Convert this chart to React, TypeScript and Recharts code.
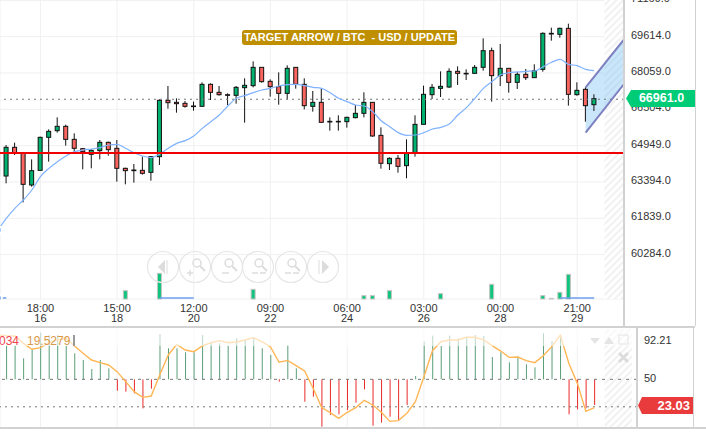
import React from "react";
import { ComposedChart, Bar, Line, Area, XAxis, YAxis, CartesianGrid, ReferenceLine, ReferenceArea } from "recharts";

const indices = Array.from({ length: 71 }, (_, k) => k - 1);
const highs = [64905,64977,65076,64648,64363,65333,65647,66161,65847,65476,64834,64791,65191,65119,65191,64006,64163,64477,64506,66932,67502,66974,66860,66832,67659,67616,67502,67188,67502,67831,68558,68301,67788,68087,68387,68301,67831,67288,67402,66161,66247,66189,66689,67231,66803,65733,64449,64548,65219,66247,67517,67588,68130,68259,68344,68216,68401,69543,69143,69300,68259,68116,68230,68430,69800,70000,70000,70171,67659,67445,67146];
const lows = [63022,63335,64548,62522,63193,63892,64263,65505,64948,64691,63935,63978,64363,64520,63407,63293,63364,63707,63450,64120,66532,66361,66575,66446,66632,66903,67089,66689,66746,65933,67445,67645,67046,66703,66932,67388,66503,66404,65947,65590,65590,65719,66118,66161,65333,63963,63906,63792,63550,64477,65861,66946,67031,67417,67545,67759,68016,68159,66832,67502,67217,67374,67759,67859,68116,69443,69571,66660,67089,65975,66432];
const opens = [63649,63649,64877,64648,63264,63892,65305,65590,65776,65219,64820,64577,64734,65091,64834,63978,63878,63892,63806,64477,66889,66803,66760,66646,66632,67574,67231,67131,67103,67431,67517,68301,67702,67474,67188,68301,67574,66632,66803,65961,65990,65975,66147,66332,66803,65390,64177,64406,64092,64634,65861,67131,67402,67459,68130,68045,68045,68301,69015,67945,68259,67659,68002,67859,68216,69728,69714,69971,67131,67360,66703];
const closes = [64762,64877,64620,63293,63878,65305,65562,65776,65219,64834,64691,64748,65091,64777,63978,63878,63906,63764,64477,66889,66789,66746,66632,66632,67574,67231,67131,67103,67445,67531,68301,67688,67474,67188,68259,67574,66660,66803,65947,65990,65975,66161,66332,66803,65362,64192,64406,64063,64634,65861,67146,67445,67488,68130,68045,68030,68301,69015,67945,68259,67659,68002,67859,68159,69757,69757,69971,67146,67317,66660,66961];
const movingAverage = [61338,61837,62265,62622,63050,63621,63978,64263,64506,64691,64762,64805,64862,64977,65005,64834,64648,64506,64434,64591,64834,65048,65162,65362,65690,65975,66261,66646,66974,67089,67217,67331,67402,67502,67559,67574,67517,67445,67402,67217,66974,66832,66689,66646,66404,66018,65761,65505,65390,65405,65505,65662,65733,65876,66261,66575,66974,67402,67688,67973,68073,68102,68130,68144,68330,68516,68644,68430,68373,68216,68159];
const volumes = [37,0,0,0,0,0,0,0,0,0,0,0,0,0,0,25,0,0,0,77,0,0,0,0,0,0,0,0,0,0,29,0,0,0,0,0,0,0,0,0,0,0,0,10,10,0,25,0,0,0,0,0,16,0,0,0,0,0,44,0,0,0,0,0,10,2,20,74,0,0,0];
const volumeAverage = [3,3,null,null,null,null,null,null,null,null,null,null,null,null,null,null,null,null,null,3,3,3,3,3,null,null,null,null,null,null,null,null,null,null,null,null,null,null,null,null,null,null,null,null,null,null,null,null,null,null,null,null,null,null,null,null,null,null,null,null,null,null,null,null,null,null,3,3,3,3,3];
const histogram = [86,86.8,86.8,72.9,82.8,101,98.4,98.4,86.4,78.4,71.1,61.3,71.1,62,37.6,36.5,34.7,18.3,39.8,99.5,83.9,83.9,79.5,79.5,98.4,90.4,89.3,86.8,94.8,94,95.9,83.9,76.6,47.5,87.5,62,25.6,31.1,-1.7,11.1,11.8,16.5,24.5,39.1,-0.6,2.7,9.2,4.5,22,53.6,91.1,97.7,86.4,97.7,94.8,96.6,98.4,97.3,74.4,79.5,68.6,75.1,66.4,63.1,100.2,91.9,98.4,11.8,17.2,18.3,22];
const oscillator = [98.4,97.7,97.3,89.3,82.8,84.6,90,93,94.8,86.4,78.4,71.1,68.2,65.7,58.4,47.5,36.5,30.3,31.8,54.7,76.6,88.2,82,80.2,86.4,90,92.2,90,90.8,93,95.5,91.1,85.3,68.6,70.7,64.9,59.1,40.2,19.1,13.6,7.4,14,19.1,27.1,22,14,4.1,4.9,12.9,25.6,52.9,81.3,91.1,93,93,95.9,95.9,93,86.8,80.9,74,74.4,70.4,68.2,75.8,85.7,98.4,67.5,45.6,15,19.1];

const priceTicks = [71169, 69614, 68059, 66504, 64949, 63394, 61839, 60284];
const timeTicks = [4, 13, 22, 31, 40, 49, 58, 67];
const timeLabels = ["18:00", "15:00", "12:00", "09:00", "06:00", "03:00", "00:00", "21:00"];
const dateLabels = ["16", "18", "20", "22", "24", "26", "28", "29"];
const oscTicks = [92.21, 50];
const supportLevel = 64634;
const lastLine = 66935;
const channelStart = 68;
const channelEnd = 72.5;
const channelUpper = [67445, 69500];
const channelLower = [65505, 67588];

const rows = indices.map((i, k) => ({
  i,
  high: highs[k],
  low: lows[k],
  open: opens[k],
  close: closes[k],
  ma: movingAverage[k],
  vol: volumes[k],
  volMa: volumeAverage[k],
  hist: histogram[k],
  osc: oscillator[k],
}));
const mainRows: any[] = rows.map((r) =>
  r.i === channelStart
    ? { ...r, upper: channelUpper[0], lower: channelLower[0], band: [channelLower[0], channelUpper[0]] }
    : r
);
mainRows.push({ i: channelEnd, upper: channelUpper[1], lower: channelLower[1], band: [channelLower[1], channelUpper[1]] });

const UP = "#00b26f";
const DOWN = "#fb6560";
const FONT = "'Liberation Sans', Arial, sans-serif";

const Candle = (p: any) => {
  const { x, y, width, height, payload } = p;
  if (!payload || payload.high == null || height == null) return null;
  const span = payload.high - payload.low || 1;
  const at = (v: number) => y + ((payload.high - v) / span) * height;
  const top = at(Math.max(payload.open, payload.close));
  const bot = at(Math.min(payload.open, payload.close));
  const cx = x + width / 2;
  return (
    <g>
      <line x1={cx} x2={cx} y1={y} y2={y + height} stroke="#111" strokeWidth={1} />
      <rect x={x} y={top} width={width} height={Math.max(bot - top, 0.6)} fill={payload.close >= payload.open ? UP : DOWN} stroke="#111" strokeWidth={1} />
    </g>
  );
};

const VolBar = (p: any) => {
  const { x, y, width, height, payload } = p;
  if (!payload || !payload.vol) return null;
  return <rect x={x} y={y} width={width} height={height} fill="#0fc47c" stroke="#c4c4c4" strokeWidth={1} />;
};

const HistBar = (p: any) => {
  const { x, y, width, height, payload } = p;
  if (!payload) return null;
  return <rect x={x} y={Math.min(y, y + height)} width={width} height={Math.abs(height)} fill={payload.hist >= 50 ? "#5a9e78" : "#ea2a2a"} />;
};

const TimeTick = (p: any) => {
  const k = timeTicks.indexOf(p.payload.value);
  return (
    <text x={p.x} y={p.y} textAnchor="middle" fontFamily={FONT} fontSize={11} fill="#333">
      <tspan x={p.x} dy={5}>{timeLabels[k]}</tspan>
      <tspan x={p.x} dy={10}>{dateLabels[k]}</tspan>
    </text>
  );
};

const Hatch = ({ id }: { id: string }) => (
  <defs>
    <pattern id={id} width="5" height="5" patternUnits="userSpaceOnUse" patternTransform="rotate(-45)">
      <rect width="5" height="5" fill="#ffffff" />
      <rect width="5" height="2" fill="#f1f1f1" />
    </pattern>
  </defs>
);

const ToolIcons = () => {
  const c = "#dcdcdc";
  const centers = [163, 195, 227, 258, 291, 323];
  const mag = (cx: number, sub: React.ReactNode) => (
    <g key={cx} stroke={c} fill="none" strokeWidth={1.5}>
      <circle cx={cx + 1} cy={263} r={4} />
      <line x1={cx + 4} y1={266} x2={cx + 9} y2={271} strokeWidth={2} />
      {sub}
    </g>
  );
  return (
    <svg width={706} height={433} style={{ position: "absolute", left: 0, top: 0, pointerEvents: "none" }}>
      {centers.map((cx) => (
        <circle key={cx} cx={cx} cy={267} r={15.5} fill="none" stroke="#e6e6e6" strokeWidth={1.2} />
      ))}
      <path d="M158 267 L165 260 L165 274 Z" fill={c} />
      <line x1={167} x2={167} y1={260} y2={274} stroke={c} />
      {mag(196, <g><line x1={187} x2={193} y1={273} y2={273} /><line x1={190} x2={190} y1={270} y2={276} /></g>)}
      {mag(228, <line x1={222} x2={229} y1={273} y2={273} />)}
      {mag(258, <g><line x1={252} x2={258} y1={273} y2={273} /><line x1={260} x2={266} y1={273} y2={273} /></g>)}
      {mag(291, <g><line x1={285} x2={291} y1={273} y2={273} /><line x1={293} x2={299} y1={273} y2={273} /></g>)}
      <path d="M329 267 L322 260 L322 274 Z" fill={c} />
      <line x1={319} x2={319} y1={260} y2={274} stroke={c} />
      <path d="M590 338 L600 338 L595 344 Z" fill="#e4e4e4" />
      <path d="M604 344 L614 344 L609 337 Z" fill="#e4e4e4" />
      <rect x={619} y={335} width={9} height={9} fill="none" stroke="#e4e4e4" />
      <path d="M619 353 L628 362 M628 353 L619 362" stroke="#dcdcdc" strokeWidth={3} />
    </svg>
  );
};

const divider = (left: number, top: number, width: number, height: number, color = "#d2d2d2") => (
  <div style={{ position: "absolute", left, top, width, height, background: color }} />
);

export default function App() {
  return (
    <div style={{ position: "absolute", left: 0, top: 0, width: 706, height: 433, overflow: "hidden", background: "#fff", fontFamily: FONT }}>
      <div style={{ position: "absolute", left: 0, top: 0 }}>
        <ComposedChart width={706} height={327} data={mainRows} margin={{ top: 0, right: 0, bottom: 0, left: 0 }}>
          <Hatch id="hatchMain" />
          <XAxis xAxisId="p" dataKey="i" type="number" domain={[-0.743, 72.5]} allowDataOverflow ticks={timeTicks} interval={0} tick={<TimeTick />} tickLine={false} axisLine={false} height={28} />
          <XAxis xAxisId="v" dataKey="i" type="number" domain={[-0.743, 72.5]} allowDataOverflow hide />
          <YAxis yAxisId="price" orientation="right" domain={[58384, 71184]} allowDataOverflow ticks={priceTicks} interval={0} width={82} tickLine={false} axisLine={false} tickMargin={1} tickFormatter={(v: number) => v.toFixed(1)} tick={{ fontSize: 11, fill: "#333", fontFamily: FONT, dy: -2, textAnchor: "start" }} />
          <YAxis yAxisId="volume" domain={[0, 897]} hide />
          <CartesianGrid xAxisId="p" yAxisId="price" stroke="#f0f0f0" strokeWidth={1} />
          <ReferenceArea xAxisId="p" yAxisId="price" x1={70.2} x2={72.5} y1={58384} y2={71184} fill="url(#hatchMain)" fillOpacity={1} stroke="none" />
          <ReferenceLine xAxisId="p" yAxisId="price" y={lastLine} stroke="#777" strokeDasharray="2 4" strokeWidth={1} />
          <Bar xAxisId="v" yAxisId="volume" dataKey="vol" barSize={4} shape={<VolBar />} isAnimationActive={false} />
          <Line xAxisId="v" yAxisId="volume" dataKey="volMa" stroke="#6f9fee" strokeWidth={1.5} dot={false} isAnimationActive={false} />
          <Bar xAxisId="p" yAxisId="price" dataKey={(d: any) => (d.high == null ? null : [d.low, d.high])} barSize={4} shape={<Candle />} isAnimationActive={false} />
          <Line xAxisId="p" yAxisId="price" dataKey="ma" type="monotone" stroke="#7fb2ff" strokeWidth={1.2} dot={false} isAnimationActive={false} />
          <ReferenceLine xAxisId="p" yAxisId="price" y={supportLevel} stroke="#f00000" strokeWidth={2} />
          <Area xAxisId="p" yAxisId="price" dataKey="band" connectNulls stroke="none" fill="#74bdf5" fillOpacity={0.38} dot={false} activeDot={false} isAnimationActive={false} />
          <Line xAxisId="p" yAxisId="price" dataKey="upper" connectNulls stroke="#7d7fbf" strokeWidth={2} dot={false} isAnimationActive={false} />
          <Line xAxisId="p" yAxisId="price" dataKey="lower" connectNulls stroke="#7d7fbf" strokeWidth={2} dot={false} isAnimationActive={false} />
        </ComposedChart>
      </div>

      <div style={{ position: "absolute", left: 0, top: 329 }}>
        <ComposedChart width={693} height={98} data={rows} margin={{ top: 0, right: 0, bottom: 0, left: 0 }}>
          <Hatch id="hatchOsc" />
          <XAxis dataKey="i" type="number" domain={[-0.743, 74]} allowDataOverflow ticks={timeTicks} interval={0} hide />
          <YAxis orientation="right" domain={[-2.05, 104.96]} allowDataOverflow ticks={oscTicks} interval={0} width={56} tickLine={false} axisLine={false} tickMargin={1} tick={{ fontSize: 11, fill: "#333", fontFamily: FONT, dy: -1, textAnchor: "start" }} />
          <CartesianGrid horizontal={false} stroke="#f0f0f0" />
          <ReferenceArea x1={70.2} x2={73.4} y1={-2.05} y2={104.96} fill="url(#hatchOsc)" fillOpacity={1} stroke="none" />
          <ReferenceLine y={50} stroke="#777" strokeDasharray="3 5" segment={[{ x: -0.743, y: 50 }, { x: 72.7, y: 50 }]} />
          <ReferenceLine y={20} stroke="#777" strokeDasharray="2 4" segment={[{ x: -0.743, y: 20 }, { x: 72.7, y: 20 }]} />
          <Bar dataKey={(d: any) => [50, d.hist]} barSize={1} shape={<HistBar />} isAnimationActive={false} />
          <Line dataKey="osc" stroke="#ffb655" strokeWidth={1.4} dot={false} isAnimationActive={false} />
        </ComposedChart>
      </div>

      {/* translucent legend band over the oscillator */}
      <div style={{ position: "absolute", left: 0, top: 329, width: 634, height: 17, background: "rgba(255,255,255,0.6)" }} />
      <div style={{ position: "absolute", left: -1, top: 334, fontSize: 12, lineHeight: "14px", color: "#f0444a", whiteSpace: "pre" }}>034</div>
      <div style={{ position: "absolute", left: 27, top: 334, fontSize: 12, lineHeight: "14px", color: "#d99a4a", whiteSpace: "pre" }}>19.5279</div>
      {divider(73, 335, 2, 11, "#9a9a9a")}

      <ToolIcons />

      {divider(0, 326, 695, 2)}
      {divider(0, 427, 706, 2)}
      {divider(623, 0, 2, 326)}
      {divider(695, 0, 1, 326)}
      {divider(636, 328, 2, 99)}
      {divider(693, 328, 1, 99)}

      <div style={{ position: "absolute", left: 242, top: 30, width: 215, height: 15, lineHeight: "15px", background: "#bf8f00", borderRadius: 3, color: "#fff", fontWeight: 700, fontSize: 11, textAlign: "center", whiteSpace: "pre" }}>TARGET ARROW / BTC  - USD / UPDATE</div>

      <div style={{ position: "absolute", left: 626, top: 90, width: 69, height: 17, background: "#00cc77", clipPath: "polygon(5px 0, 100% 0, 100% 100%, 5px 100%, 0 50%)", color: "#fff", fontWeight: 700, fontSize: 12.5, lineHeight: "17px", textAlign: "center", paddingLeft: 2, boxSizing: "border-box" }}>66961.0</div>
      <div style={{ position: "absolute", left: 638, top: 397, width: 55, height: 17, background: "#e93b3b", clipPath: "polygon(4px 0, 100% 0, 100% 100%, 4px 100%, 0 50%)", color: "#fff", fontWeight: 700, fontSize: 13, lineHeight: "17px", textAlign: "right", paddingRight: 3, boxSizing: "border-box" }}>23.03</div>
    </div>
  );
}
